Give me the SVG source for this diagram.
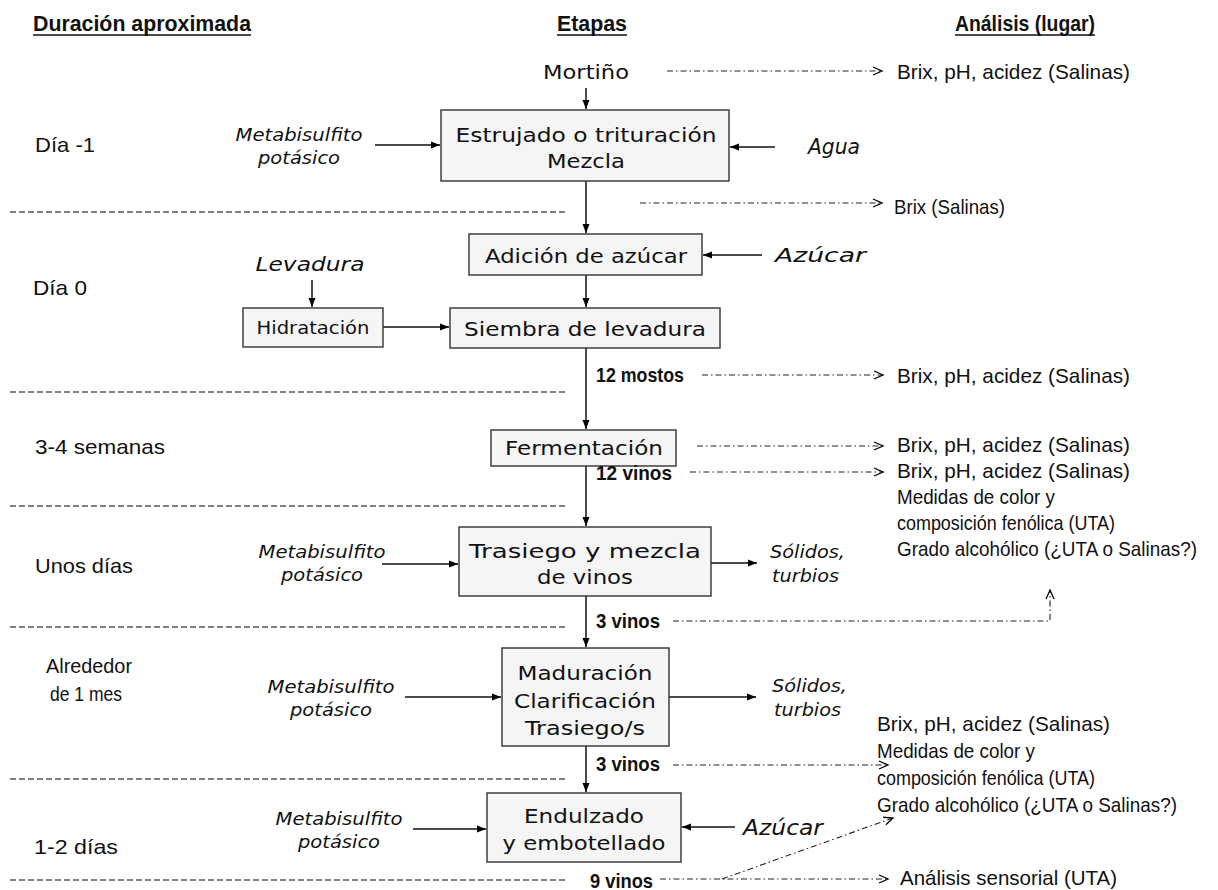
<svg xmlns="http://www.w3.org/2000/svg" width="1218" height="890" viewBox="0 0 1218 890">
<defs>
<marker id="ah" markerWidth="10" markerHeight="10" viewBox="0 0 10 10" refX="9" refY="5" orient="auto" markerUnits="userSpaceOnUse">
<path d="M0,1.5 L9,5 L0,8.5 z" fill="#000"/>
</marker>
<marker id="oh" markerWidth="12" markerHeight="12" viewBox="0 0 12 12" refX="10" refY="6" orient="auto" markerUnits="userSpaceOnUse">
<path d="M1,2 L10,6 L1,10" fill="none" stroke="#000" stroke-width="1.3"/>
</marker>
<style>
.box{fill:#f5f5f5;stroke:#333;stroke-width:1.4}
.bt{font-family:"DejaVu Sans",Verdana,sans-serif;font-size:20px;fill:#111;text-anchor:middle}
.it{font-family:"DejaVu Sans",Verdana,sans-serif;font-style:italic;font-size:17px;fill:#111}
.nr{font-family:"Liberation Sans Narrow","Liberation Sans",Arial,sans-serif;font-size:21px;fill:#111}
.bd{font-family:"Liberation Sans Narrow","Liberation Sans",Arial,sans-serif;font-size:21px;font-weight:bold;fill:#111}
.hd{font-family:"Liberation Sans Narrow","Liberation Sans",Arial,sans-serif;font-size:22px;font-weight:bold;fill:#111}
.sol{stroke:#111;stroke-width:1.5;fill:none;marker-end:url(#ah)}
.dd{stroke:#222;stroke-width:1.1;fill:none;stroke-dasharray:6 3 1.5 3;marker-end:url(#oh)}
.sep{stroke:#555;stroke-width:1.4;stroke-dasharray:6 3}
.ul{stroke:#111;stroke-width:1.5}
</style>
</defs>
<rect width="1218" height="890" fill="#fff"/>

<g id="headers">
<text class="hd" x="33" y="31" textLength="218" lengthAdjust="spacingAndGlyphs">Duración aproximada</text>
<line class="ul" x1="33" y1="35" x2="251" y2="35"/>
<text class="hd" x="557" y="31" textLength="70" lengthAdjust="spacingAndGlyphs">Etapas</text>
<line class="ul" x1="557" y1="35" x2="627" y2="35"/>
<text class="hd" x="955" y="31" textLength="140" lengthAdjust="spacingAndGlyphs">Análisis (lugar)</text>
<line class="ul" x1="955" y1="35" x2="1095" y2="35"/>
</g>

<g id="separators">
<line class="sep" x1="10" y1="212" x2="566" y2="212"/>
<line class="sep" x1="10" y1="392" x2="566" y2="392"/>
<line class="sep" x1="10" y1="506" x2="566" y2="506"/>
<line class="sep" x1="10" y1="627" x2="566" y2="627"/>
<line class="sep" x1="10" y1="779" x2="566" y2="779"/>
<line class="sep" x1="10" y1="880" x2="566" y2="880"/>
</g>

<g id="durations">
<text class="nr" x="35" y="152" textLength="60" lengthAdjust="spacingAndGlyphs">Día -1</text>
<text class="nr" x="33" y="295" textLength="54" lengthAdjust="spacingAndGlyphs">Día 0</text>
<text class="nr" x="35" y="454" textLength="130" lengthAdjust="spacingAndGlyphs">3-4 semanas</text>
<text class="nr" x="35" y="573" textLength="98" lengthAdjust="spacingAndGlyphs">Unos días</text>
<text class="nr" x="46" y="673" textLength="86" lengthAdjust="spacingAndGlyphs">Alrededor</text>
<text class="nr" x="50" y="701" textLength="72" lengthAdjust="spacingAndGlyphs">de 1 mes</text>
<text class="nr" x="34" y="854" textLength="84" lengthAdjust="spacingAndGlyphs">1-2 días</text>
</g>

<g id="connectors">
<line class="sol" x1="586" y1="88" x2="586" y2="109"/>
<line class="sol" x1="375" y1="145" x2="440" y2="145"/>
<line class="sol" x1="775" y1="147" x2="730" y2="147"/>
<line class="sol" x1="586" y1="181" x2="586" y2="233"/>
<line class="sol" x1="762" y1="255" x2="703" y2="255"/>
<line class="sol" x1="312" y1="280" x2="312" y2="307"/>
<line class="sol" x1="383" y1="327" x2="449" y2="327"/>
<line class="sol" x1="586" y1="275" x2="586" y2="307"/>
<line class="sol" x1="586" y1="348" x2="586" y2="429"/>
<line class="sol" x1="586" y1="466" x2="586" y2="526"/>
<line class="sol" x1="382" y1="564" x2="458" y2="564"/>
<line class="sol" x1="711" y1="563" x2="757" y2="563"/>
<line class="sol" x1="586" y1="596" x2="586" y2="647"/>
<line class="sol" x1="405" y1="697" x2="501" y2="697"/>
<line class="sol" x1="669" y1="697" x2="756" y2="697"/>
<line class="sol" x1="586" y1="746" x2="586" y2="792"/>
<line class="sol" x1="413" y1="829" x2="486" y2="829"/>
<line class="sol" x1="735" y1="827" x2="682" y2="827"/>
<line class="dd" x1="667" y1="71" x2="882" y2="71"/>
<line class="dd" x1="640" y1="203" x2="882" y2="203"/>
<line class="dd" x1="702" y1="375" x2="883" y2="375"/>
<line class="dd" x1="697" y1="446" x2="883" y2="446"/>
<line class="dd" x1="690" y1="472" x2="883" y2="472"/>
<polyline class="dd" points="673,621 1050,621 1050,590"/>
<line class="dd" x1="673" y1="765" x2="888" y2="765"/>
<line class="dd" x1="660" y1="879" x2="888" y2="879"/>
<line class="dd" x1="722" y1="879" x2="893" y2="818"/>
</g>

<g id="mortino">
<text class="bt" x="586" y="79" textLength="86" lengthAdjust="spacingAndGlyphs">Mortiño</text>
</g>

<g id="estrujado">
<rect class="box" x="441" y="110" width="288" height="71"/>
<text class="bt" x="586" y="142" textLength="261" lengthAdjust="spacingAndGlyphs">Estrujado o trituración</text>
<text class="bt" x="586" y="168" textLength="78" lengthAdjust="spacingAndGlyphs">Mezcla</text>
</g>

<g id="adicion">
<rect class="box" x="469" y="234" width="233" height="41"/>
<text class="bt" x="586" y="263" textLength="202" lengthAdjust="spacingAndGlyphs">Adición de azúcar</text>
</g>

<g id="hidratacion">
<rect class="box" x="243" y="308" width="140" height="39"/>
<text class="bt" x="313" y="334" style="font-size:17px" textLength="113" lengthAdjust="spacingAndGlyphs">Hidratación</text>
</g>

<g id="siembra">
<rect class="box" x="450" y="308" width="270" height="40"/>
<text class="bt" x="585" y="336" textLength="242" lengthAdjust="spacingAndGlyphs">Siembra de levadura</text>
</g>

<g id="fermentacion">
<rect class="box" x="491" y="430" width="185" height="36"/>
<text class="bt" x="584" y="455" textLength="158" lengthAdjust="spacingAndGlyphs">Fermentación</text>
</g>

<g id="trasiego">
<rect class="box" x="459" y="527" width="252" height="69"/>
<text class="bt" x="585" y="558" textLength="232" lengthAdjust="spacingAndGlyphs">Trasiego y mezcla</text>
<text class="bt" x="585" y="584" textLength="96" lengthAdjust="spacingAndGlyphs">de vinos</text>
</g>

<g id="maduracion">
<rect class="box" x="502" y="648" width="167" height="98"/>
<text class="bt" x="585" y="680" textLength="135" lengthAdjust="spacingAndGlyphs">Maduración</text>
<text class="bt" x="585" y="708" textLength="142" lengthAdjust="spacingAndGlyphs">Clarificación</text>
<text class="bt" x="585" y="735" textLength="120" lengthAdjust="spacingAndGlyphs">Trasiego/s</text>
</g>

<g id="endulzado">
<rect class="box" x="487" y="793" width="194" height="69"/>
<text class="bt" x="584" y="823" textLength="120" lengthAdjust="spacingAndGlyphs">Endulzado</text>
<text class="bt" x="584" y="850" textLength="163" lengthAdjust="spacingAndGlyphs">y embotellado</text>
</g>

<g id="inputs">
<text class="it" x="299" y="141" text-anchor="middle" textLength="127" lengthAdjust="spacingAndGlyphs">Metabisulfito</text>
<text class="it" x="299" y="164" text-anchor="middle" textLength="82" lengthAdjust="spacingAndGlyphs">potásico</text>
<text class="it" x="808" y="154" style="font-size:21px" textLength="52" lengthAdjust="spacingAndGlyphs">Agua</text>
<text class="it" x="775" y="262" style="font-size:20px" textLength="91" lengthAdjust="spacingAndGlyphs">Azúcar</text>
<text class="it" x="310" y="271" text-anchor="middle" style="font-size:20px" textLength="109" lengthAdjust="spacingAndGlyphs">Levadura</text>
<text class="it" x="322" y="558" text-anchor="middle" textLength="127" lengthAdjust="spacingAndGlyphs">Metabisulfito</text>
<text class="it" x="322" y="581" text-anchor="middle" textLength="82" lengthAdjust="spacingAndGlyphs">potásico</text>
<text class="it" x="770" y="558" style="font-size:18px" textLength="75" lengthAdjust="spacingAndGlyphs">Sólidos,</text>
<text class="it" x="772" y="582" style="font-size:18px" textLength="67" lengthAdjust="spacingAndGlyphs">turbios</text>
<text class="it" x="331" y="693" text-anchor="middle" textLength="127" lengthAdjust="spacingAndGlyphs">Metabisulfito</text>
<text class="it" x="331" y="716" text-anchor="middle" textLength="82" lengthAdjust="spacingAndGlyphs">potásico</text>
<text class="it" x="772" y="692" style="font-size:18px" textLength="75" lengthAdjust="spacingAndGlyphs">Sólidos,</text>
<text class="it" x="774" y="716" style="font-size:18px" textLength="67" lengthAdjust="spacingAndGlyphs">turbios</text>
<text class="it" x="339" y="825" text-anchor="middle" textLength="127" lengthAdjust="spacingAndGlyphs">Metabisulfito</text>
<text class="it" x="339" y="848" text-anchor="middle" textLength="82" lengthAdjust="spacingAndGlyphs">potásico</text>
<text class="it" x="743" y="835" style="font-size:21px" textLength="80" lengthAdjust="spacingAndGlyphs">Azúcar</text>
</g>

<g id="samples">
<text class="bd" x="596" y="382" textLength="88" lengthAdjust="spacingAndGlyphs">12 mostos</text>
<text class="bd" x="596" y="480" textLength="76" lengthAdjust="spacingAndGlyphs">12 vinos</text>
<text class="bd" x="596" y="628" textLength="64" lengthAdjust="spacingAndGlyphs">3 vinos</text>
<text class="bd" x="596" y="771" textLength="64" lengthAdjust="spacingAndGlyphs">3 vinos</text>
<text class="bd" x="590" y="888" textLength="63" lengthAdjust="spacingAndGlyphs">9 vinos</text>
</g>

<g id="analyses">
<text class="nr" x="897" y="79" textLength="233" lengthAdjust="spacingAndGlyphs">Brix, pH, acidez (Salinas)</text>
<text class="nr" x="894" y="214" textLength="111" lengthAdjust="spacingAndGlyphs">Brix (Salinas)</text>
<text class="nr" x="897" y="383" textLength="233" lengthAdjust="spacingAndGlyphs">Brix, pH, acidez (Salinas)</text>
<text class="nr" x="897" y="452" textLength="233" lengthAdjust="spacingAndGlyphs">Brix, pH, acidez (Salinas)</text>
<text class="nr" x="897" y="478" textLength="233" lengthAdjust="spacingAndGlyphs">Brix, pH, acidez (Salinas)</text>
<text class="nr" x="897" y="504" textLength="158" lengthAdjust="spacingAndGlyphs">Medidas de color y</text>
<text class="nr" x="897" y="530" textLength="218" lengthAdjust="spacingAndGlyphs">composición fenólica (UTA)</text>
<text class="nr" x="897" y="556" textLength="300" lengthAdjust="spacingAndGlyphs">Grado alcohólico (¿UTA o Salinas?)</text>
<text class="nr" x="877" y="731" textLength="233" lengthAdjust="spacingAndGlyphs">Brix, pH, acidez (Salinas)</text>
<text class="nr" x="877" y="758" textLength="158" lengthAdjust="spacingAndGlyphs">Medidas de color y</text>
<text class="nr" x="877" y="785" textLength="218" lengthAdjust="spacingAndGlyphs">composición fenólica (UTA)</text>
<text class="nr" x="877" y="812" textLength="300" lengthAdjust="spacingAndGlyphs">Grado alcohólico (¿UTA o Salinas?)</text>
<text class="nr" x="900" y="885" textLength="217" lengthAdjust="spacingAndGlyphs">Análisis sensorial (UTA)</text>
</g>
</svg>
